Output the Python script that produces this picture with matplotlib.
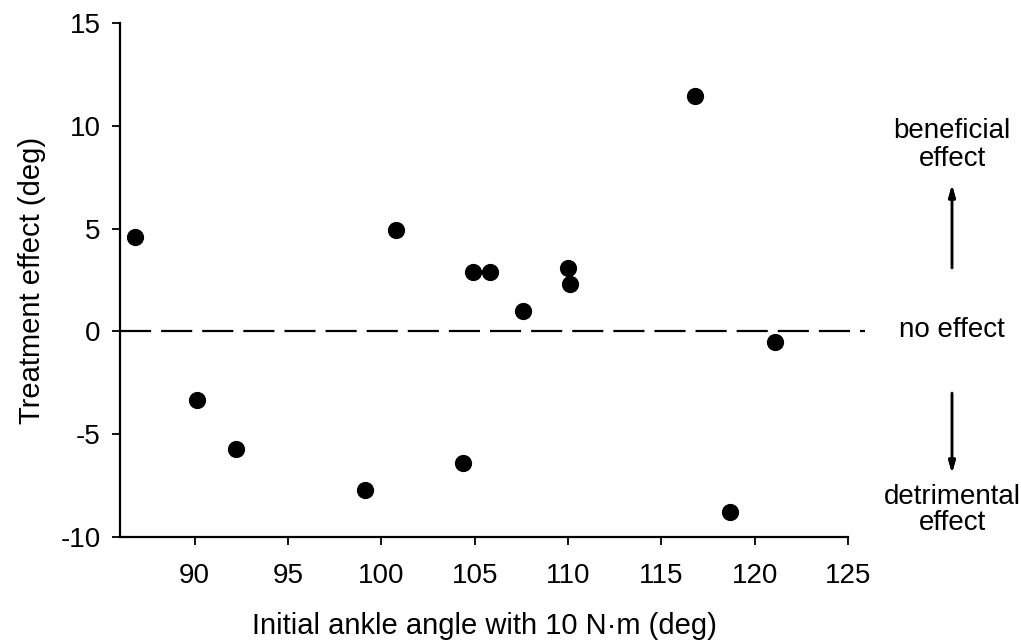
import numpy as np
import matplotlib.pyplot as plt

# initial ankle angle (deg) and treatment effect (deg)
angle = [86.8, 90.1, 92.2, 99.1, 100.8, 104.4, 104.9, 105.8, 107.6, 110.0, 110.1, 116.8, 118.7, 121.1]
effect = [4.6, -3.35, -5.7, -7.7, 4.95, -6.4, 2.9, 2.9, 1.0, 3.1, 2.3, 11.45, -8.8, -0.5]

xticks = [90, 95, 100, 105, 110, 115, 120, 125]
yticks = [-10, -5, 0, 5, 10, 15]

plt.rcParams['font.family'] = ['Liberation Sans', 'DejaVu Sans']
plt.rcParams['axes.unicode_minus'] = False

fig = plt.figure(figsize=(10.21, 6.41), dpi=100)
ax = fig.add_axes([0.1175, 0.1622, 0.7131, 0.8019])

ax.plot([86, 125.9], [0, 0], color='black', lw=1.6, dashes=(14, 4.5), clip_on=False)
ax.scatter(angle, effect, s=130, color='black', zorder=3, clip_on=False)

ax.set_xlim(86, 125)
ax.set_ylim(-10, 15)
ax.set_xticks(xticks)
ax.set_yticks(yticks)
ax.tick_params(direction='out', length=6, width=1.3, labelsize=20, pad=8)
ax.tick_params(axis='x', pad=13)
for s in ['top', 'right']:
    ax.spines[s].set_visible(False)
for s in ['left', 'bottom']:
    ax.spines[s].set_linewidth(1.6)

ax.set_xlabel('Initial ankle angle with 10 N\u00b7m (deg)', fontsize=21, labelpad=16)
ax.set_ylabel('Treatment effect (deg)', fontsize=21, labelpad=10)

# side annotations
tx = 952 / 1021
fig.text(tx, 1 - 145 / 641, 'beneficial\neffect', ha='center', va='center', fontsize=20, linespacing=1.05)
fig.text(tx, 1 - 330 / 641, 'no effect', ha='center', va='center', fontsize=20)
fig.text(tx, 1 - 510 / 641, 'detrimental\neffect', ha='center', va='center', fontsize=20, linespacing=1.05)
arrow = dict(arrowstyle='-|>,head_length=0.7,head_width=0.2', lw=1.8, color='black', shrinkA=0, shrinkB=0)
fig.add_artist(plt.annotate('', xy=(tx, 1 - 185 / 641), xytext=(tx, 1 - 268 / 641),
                            xycoords='figure fraction', arrowprops=arrow))
fig.add_artist(plt.annotate('', xy=(tx, 1 - 473 / 641), xytext=(tx, 1 - 393 / 641),
                            xycoords='figure fraction', arrowprops=arrow))

fig.savefig('out.png', dpi=100)
